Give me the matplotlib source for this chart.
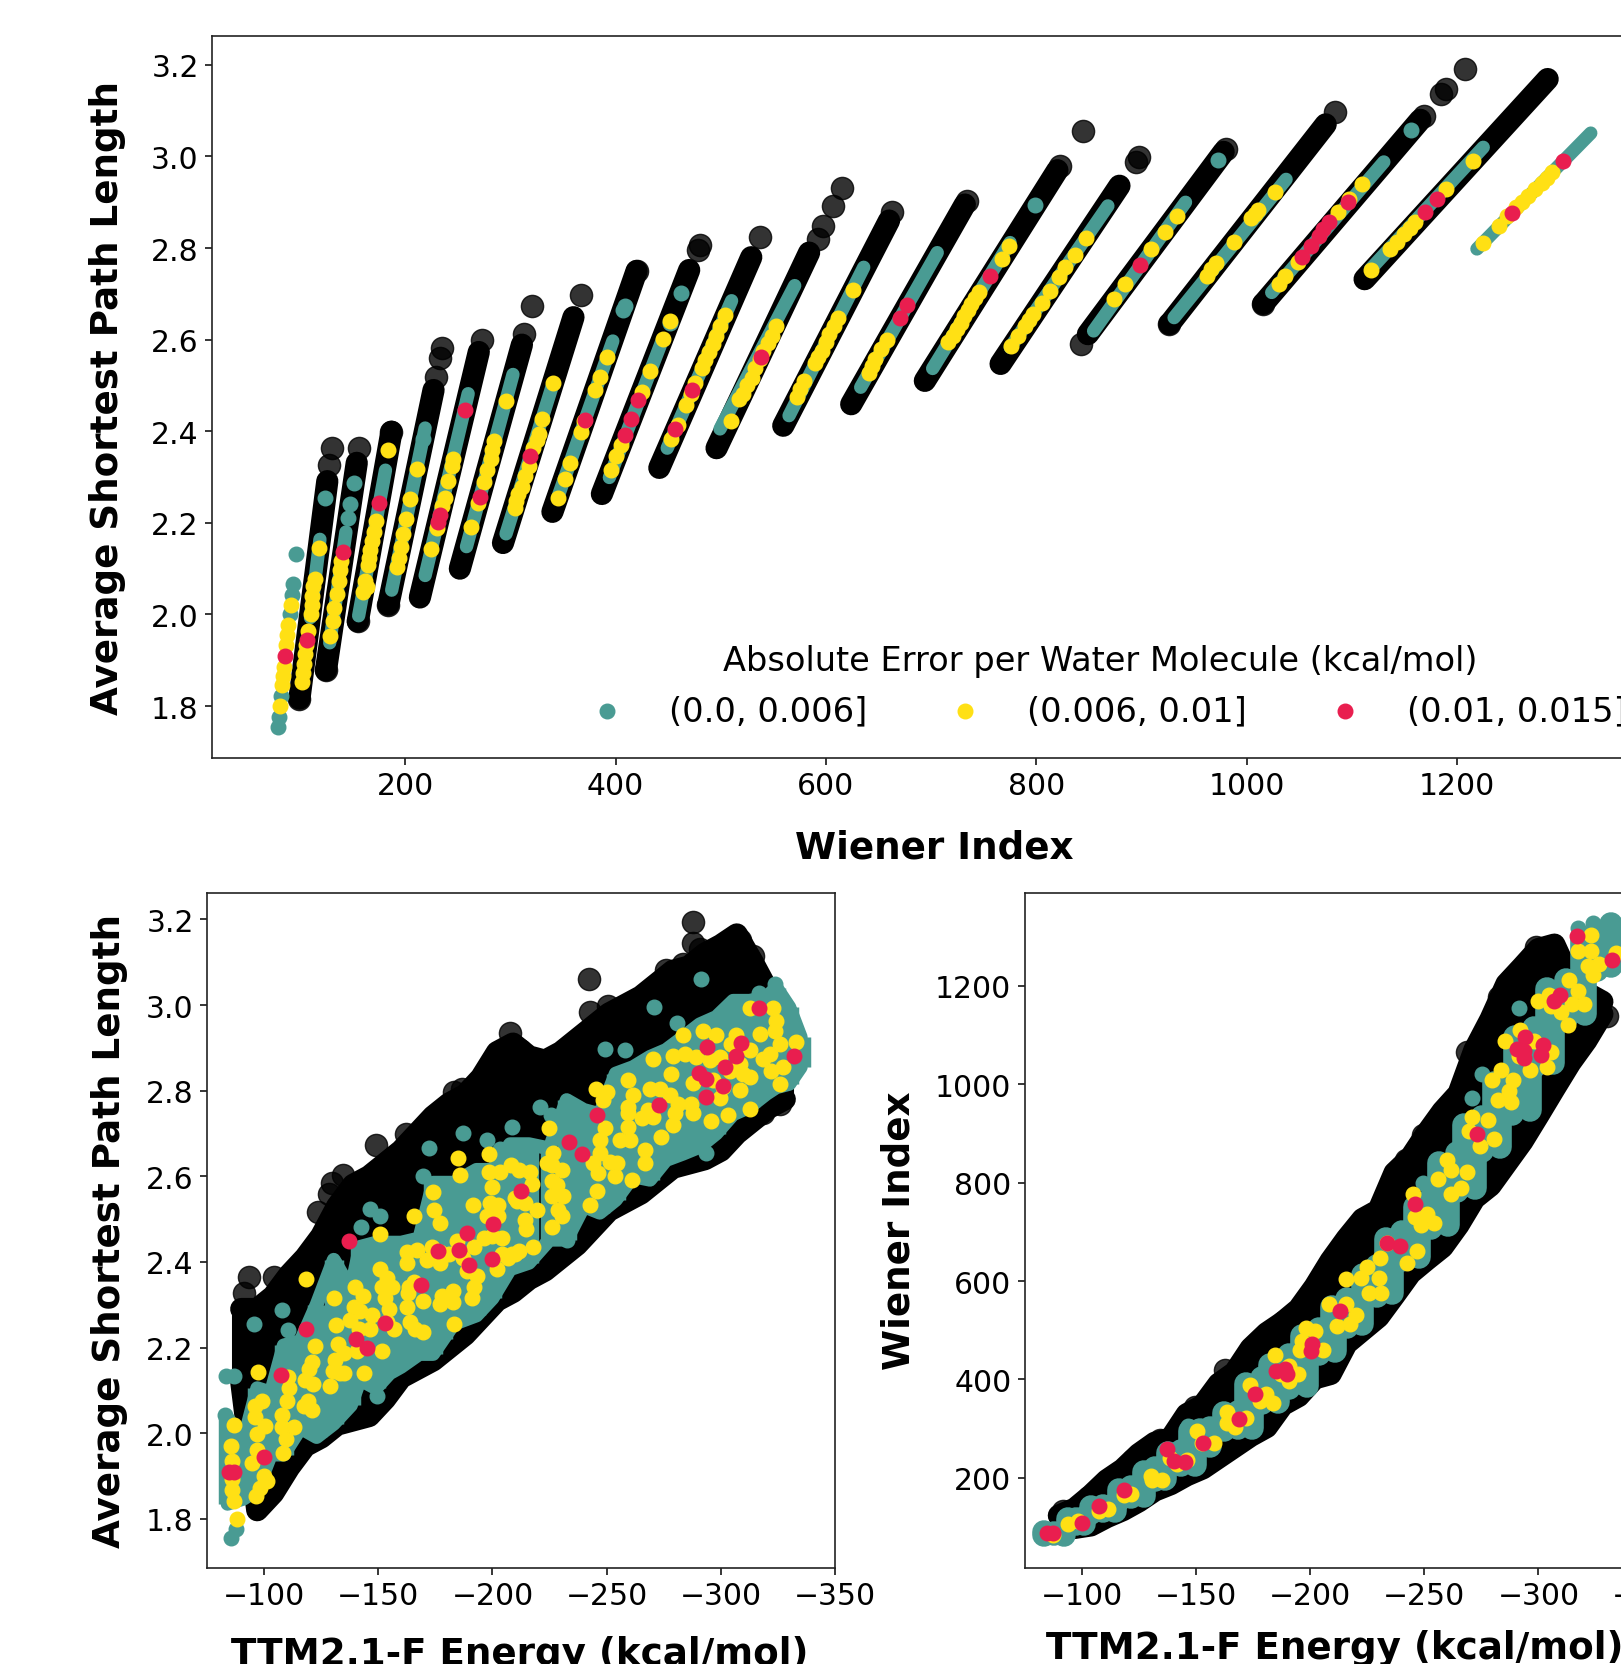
import matplotlib
matplotlib.use("Agg")
import matplotlib.pyplot as plt

W, H = 1621, 1665
TEAL = "#499b93"
YELLOW = "#ffe014"
RED = "#e91e4f"

# ---- top panel: Wiener index vs average shortest path length
strip_wi = [[99.5, 126], [124.7, 154], [155, 187], [184, 227], [214, 270], [252, 311], [293, 360],
            [340, 420], [387, 470], [441.6, 529], [496, 584], [559.4, 660], [624, 732], [694, 820],
            [766, 879], [849, 978], [926.5, 1075], [1015.6, 1165], [1112, 1286]]
strip_aspl = [[1.816, 2.291], [1.878, 2.331], [1.985, 2.399], [2.021, 2.49], [2.037, 2.573], [2.10, 2.589],
              [2.156, 2.649], [2.224, 2.75], [2.263, 2.752], [2.32, 2.78], [2.363, 2.79], [2.412, 2.86],
              [2.459, 2.895], [2.51, 2.97], [2.547, 2.936], [2.612, 3.01], [2.634, 3.07], [2.678, 3.08],
              [2.732, 3.169]]
top_black_wi = [99.5, 128, 130, 124.7, 156, 155, 187, 184, 229, 233, 235, 273, 313, 321, 367, 420, 478, 480,
                537.5, 592, 597.6, 607, 615.7, 663, 734, 822, 844, 895, 898, 842, 980, 926.5, 1084,
                1168.5, 1185, 1189, 1207, 1015.6]
top_black_aspl = [1.816, 2.327, 2.363, 1.878, 2.363, 1.985, 2.399, 2.021, 2.518, 2.56, 2.581, 2.599, 2.613, 2.674,
                  2.698, 2.75, 2.796, 2.806, 2.825, 2.82, 2.849, 2.891, 2.932, 2.878, 2.903, 2.98, 3.056, 2.987,
                  2.998, 2.59, 3.016, 2.634, 3.096, 3.089, 3.136, 3.147, 3.192, 2.678]
band_wi = [[110, 119], [128.3, 143.7], [155.8, 181.3], [187.2, 219], [219, 259.9], [258.3, 302.5], [295.9, 340.8],
           [345, 397.4], [394.1, 444.8], [449.1, 510.3], [499.3, 570.3], [564.9, 635.9], [633, 705.8],
           [701.4, 775], [775.2, 868], [854.4, 941.8], [930.9, 1037.4], [1023.7, 1130.3], [1117.7, 1224.8],
           [1218.8, 1327]]
band_aspl = [[1.993, 2.164], [1.938, 2.18], [1.997, 2.315], [2.053, 2.407], [2.085, 2.482], [2.148, 2.524],
             [2.176, 2.506], [2.255, 2.597], [2.299, 2.601], [2.363, 2.685], [2.405, 2.718], [2.434, 2.758],
             [2.496, 2.79], [2.537, 2.812], [2.583, 2.892], [2.619, 2.9], [2.648, 2.95], [2.703, 2.988],
             [2.754, 3.02], [2.798, 3.051]]
top_teal_wi = [79.2, 80.2, 82.2, 90.3, 92.3, 93, 95.9, 124, 151.2, 148, 146, 217.3, 407.2, 408.8, 451.4, 461.9,
               798.7, 973, 1156.5]
top_teal_aspl = [1.755, 1.777, 1.822, 2.001, 2.043, 2.067, 2.132, 2.254, 2.287, 2.241, 2.211, 2.384, 2.665, 2.673,
                 2.637, 2.701, 2.894, 2.993, 3.057]
top_yellow_wi = [81.2, 82.8, 83.8, 84.8, 86.4, 87.7, 89, 91.3,
                 102.1, 102.8, 103.8, 104.7, 105.4, 108, 110.3, 111, 111.6, 112.6, 113.9, 117.8,
                 129, 131.6, 132.2, 134.9, 137.2, 138.1, 139.4,
                 184, 172.2, 168.2, 165.6, 165, 161.7, 160, 163.5, 167, 170,
                 211.1, 204.6, 201, 198.4, 196.1, 193.8, 191.8,
                 245.8, 244.2, 240.3, 237.6, 235.4, 230.4, 224.9,
                 295.9, 284.5, 282.8, 281.2, 277.9, 274.6, 269.7, 262.5,
                 340.8, 330.3, 327, 321.4, 313.9, 310.6, 305.7, 304.1, 307, 318, 325,
                 345, 351.6, 356.5, 367.3, 369.6, 380.7, 385.3, 391.8,
                 395.7, 400.7, 405.6, 425.2, 432.4, 445.2, 451.4,
                 453, 459.6, 467.1, 475.9, 481.8, 489, 495.6, 503.8, 471.5, 485.4, 492.3, 499.7,
                 509.3, 517.8, 521, 529.3, 533, 540.3, 548.5, 552.3, 525, 537, 544.5,
                 572, 579.6, 589.4, 596, 603.1, 611.3, 626, 575.8, 592.7, 600, 607.2,
                 641.3, 646.8, 657.7, 644, 652,
                 716.2, 724.4, 731.5, 738, 745.1, 767, 774.1, 720.3, 728, 735, 741.5,
                 776.3, 788.8, 797, 805.2, 813.4, 821.6, 827.1, 836.4, 847.3, 782.5, 793,
                 873.5, 884.4, 909, 922.7, 933.6,
                 966.4, 988.2, 1007.4, 1026.5, 962.5, 970.3, 1004, 1011,
                 1031, 1036.3, 1109.5, 1097.5, 1048.3, 1086.6,
                 1118.3, 1135.7, 1149.4, 1160.3, 1189.3, 1215, 1142.5, 1155,
                 1224.2, 1239.5, 1256, 1266.9, 1280.5, 1290.4, 1247.7, 1261.5, 1273.7, 1285.5]
top_yellow_aspl = [1.8, 1.845, 1.866, 1.886, 1.934, 1.955, 1.977, 2.021,
                   1.852, 1.872, 1.891, 1.914, 1.934, 1.964, 2.001, 2.021, 2.041, 2.061, 2.077, 2.144,
                   1.953, 1.985, 2.013, 2.045, 2.073, 2.096, 2.116,
                   2.359, 2.204, 2.16, 2.124, 2.108, 2.073, 2.049, 2.06, 2.14, 2.18,
                   2.317, 2.252, 2.208, 2.176, 2.148, 2.124, 2.104,
                   2.339, 2.323, 2.291, 2.255, 2.236, 2.188, 2.142,
                   2.465, 2.379, 2.359, 2.339, 2.315, 2.289, 2.244, 2.19,
                   2.506, 2.426, 2.395, 2.363, 2.303, 2.279, 2.248, 2.232, 2.262, 2.325, 2.38,
                   2.254, 2.295, 2.331, 2.399, 2.422, 2.49, 2.518, 2.561,
                   2.315, 2.345, 2.371, 2.486, 2.532, 2.601, 2.641,
                   2.384, 2.414, 2.458, 2.506, 2.538, 2.574, 2.609, 2.653, 2.482, 2.556, 2.59, 2.63,
                   2.422, 2.47, 2.481, 2.517, 2.539, 2.576, 2.608, 2.63, 2.5, 2.558, 2.592,
                   2.475, 2.51, 2.55, 2.576, 2.612, 2.648, 2.709, 2.492, 2.563, 2.594, 2.63,
                   2.528, 2.557, 2.6, 2.543, 2.58,
                   2.594, 2.623, 2.652, 2.678, 2.703, 2.776, 2.805, 2.608, 2.637, 2.665, 2.69,
                   2.587, 2.629, 2.656, 2.681, 2.707, 2.736, 2.758, 2.785, 2.822, 2.608, 2.642,
                   2.688, 2.721, 2.798, 2.836, 2.87,
                   2.754, 2.814, 2.874, 2.923, 2.74, 2.768, 2.866, 2.882,
                   2.721, 2.739, 2.94, 2.907, 2.769, 2.878,
                   2.753, 2.798, 2.83, 2.856, 2.93, 2.99, 2.814, 2.843,
                   2.812, 2.849, 2.889, 2.914, 2.943, 2.965, 2.869, 2.901, 2.928, 2.954]
top_red_wi = [86.1, 107, 141, 174.8, 257, 232.7, 230.8, 271.4, 318.8, 370.9, 409.2, 414.7, 421.6, 456.6, 473,
              538.1, 670.3, 676.9, 756, 898.1, 1052.2, 1060.9, 1068.6, 1072.9, 1078.4, 1095.9, 1169.6, 1180.5,
              1252.1, 1300.7]
top_red_aspl = [1.91, 1.945, 2.136, 2.243, 2.446, 2.217, 2.201, 2.257, 2.345, 2.425, 2.391, 2.426, 2.468, 2.405,
                2.489, 2.561, 2.647, 2.675, 2.738, 2.763, 2.781, 2.805, 2.827, 2.841, 2.856, 2.9, 2.878, 2.907,
                2.877, 2.99]

# ---- lower panels share the black energy columns
col_e = [-90, -97, -104, -111, -118, -125, -132, -139, -146, -153, -160, -167, -174, -181, -188, -195, -202,
         -209, -216, -223, -230, -237, -244, -251, -258, -265, -272, -279, -286, -293, -300, -307, -314, -321,
         -328]
col_aspl_low = [2.12, 1.82, 1.86, 1.92, 1.97, 1.99, 2.02, 2.03, 2.04, 2.08, 2.13, 2.15, 2.17, 2.20, 2.23, 2.27,
                2.31, 2.33, 2.36, 2.38, 2.41, 2.44, 2.48, 2.52, 2.54, 2.56, 2.59, 2.62, 2.63, 2.64, 2.66, 2.70,
                2.73, 2.76, 2.78]
col_aspl_high = [2.29, 2.29, 2.32, 2.37, 2.41, 2.46, 2.53, 2.58, 2.60, 2.63, 2.66, 2.70, 2.74, 2.77, 2.79, 2.83,
                 2.89, 2.91, 2.88, 2.87, 2.89, 2.92, 2.95, 2.98, 3.00, 3.02, 3.05, 3.08, 3.09, 3.12, 3.14, 3.165,
                 3.10, 3.03, 2.90]
col_wi_low = [93.5, 98, 103, 120, 134, 152, 174, 187, 205, 219, 241, 263, 285, 303, 348, 366, 402, 411, 473, 500,
              527, 571, 616, 643, 669, 714, 768, 794, 839, 884, 937, 991, 1044, 1089, 1143]
col_wi_high = [123, 137, 164, 195, 217, 248, 271, 280, 329, 347, 391, 414, 463, 494, 516, 543, 588, 641, 686, 726,
               744, 820, 851, 900, 945, 981, 1070, 1132, 1204, 1239, 1275, 1284, 1213, 1186, 1168]

# ---- lower left: energy vs average shortest path length
left_black_e = [-93.6, -91.1, -104.2, -123.6, -128.3, -134.5, -129.7, -149.1, -162.1, -195.3, -186.6, -183, -207.7,
                -204.8, -242.4, -287.9, -287.9, -291, -314.1, -308.3, -242.7, -250.7, -268.9, -276.2, -283.5,
                -212.1, -325.8, -318.5]
left_black_aspl = [2.364, 2.328, 2.365, 2.517, 2.558, 2.602, 2.584, 2.674, 2.7, 2.829, 2.805, 2.798, 2.934, 2.856,
                   3.06, 3.193, 3.145, 3.13, 3.114, 3.153, 2.983, 2.998, 3.033, 3.083, 3.095, 2.894, 2.77, 2.747]
teal_e = [-84, -91, -97, -103, -108.6, -116, -123, -130.5, -138, -142, -149, -155, -160, -168, -174, -178.5, -183, -188,
          -193, -200, -207.7, -216, -225, -232.5, -240, -247, -254, -261.6, -269, -276, -283.5, -290.8, -298, -305.4,
          -312.6, -320, -324.3, -330, -335]
teal_low = [1.835, 1.847, 1.868, 1.95, 1.95, 2.012, 1.991, 2.022, 2.065, 2.125, 2.105, 2.14, 2.155, 2.185, 2.185, 2.22,
            2.255, 2.265, 2.275, 2.315, 2.383, 2.398, 2.452, 2.452, 2.53, 2.515, 2.545, 2.60, 2.592, 2.638, 2.653, 2.669,
            2.70, 2.745, 2.762, 2.793, 2.808, 2.816, 2.855]
teal_high = [2.035, 1.982, 2.105, 2.095, 2.205, 2.215, 2.30, 2.405, 2.335, 2.435, 2.445, 2.445, 2.445, 2.455, 2.585, 2.585,
             2.585, 2.6, 2.615, 2.615, 2.675, 2.675, 2.665, 2.778, 2.755, 2.745, 2.84, 2.855, 2.879, 2.895, 2.925, 2.955,
             2.972, 3.01, 3.01, 3.018, 3.041, 2.995, 2.925]
left_teal_e = [-85.6, -87.5, -83.5, -86.7, -83.1, -95.5, -107.9, -110.4, -146.5, -150.9, -142.4, -130.5, -134.5,
               -149.4, -172, -169.5, -187.3, -197.5, -203.1, -208.5, -291.2, -270.8, -281, -249.2, -258, -220.8,
               -225.6, -323.6, -316.7, -293.7, -232.5]
left_teal_aspl = [1.755, 1.775, 2.134, 2.134, 2.043, 2.254, 2.287, 2.242, 2.524, 2.507, 2.481, 2.398, 2.055, 2.086,
                  2.666, 2.601, 2.701, 2.684, 2.664, 2.715, 3.06, 2.996, 2.957, 2.898, 2.896, 2.762, 2.743, 3.05,
                  3.029, 2.654, 2.452]
left_yellow_e = [-88.2, -86.7, -86, -86, -86, -85.6, -86.7, -97.2, -96.2, -99.1, -96.2, -96.9, -100.6, -94.8, -96.9,
                 -99.9, -101.3, -98.4, -96.6, -107.9, -107.9, -113, -109.8, -108.3, -110.1, -110.8, -110.3, -118.5,
                 -122.4, -121, -119.5, -118.1, -121.4, -119.1, -121, -117.3, -130.5, -131.6, -132.2, -134.8, -131.2,
                 -130.2, -133.4, -129, -135.1, -139.9, -143.1, -139.2, -147.2, -142.1, -137.8, -141.4, -146.5,
                 -140.7, -151.6, -143.6, -150.9, -150.6, -153.8, -151.6, -156, -153.1, -154.5, -153.8, -156.7,
                 -162.5, -166.9, -162.5, -169.8, -163.3, -162.8, -165.5, -162.5, -164, -166.2, -169.5, -165.5,
                 -173.9, -174.2, -177.1, -173.5, -177.1, -171.3, -177.1, -180.8, -177.8, -182.9, -177.1, -182.9,
                 -183.2, -185.1, -185.9, -191.4, -184.4, -191.7, -187.3, -193.1, -188.8, -191.7, -191, -198.3,
                 -198.3, -203.1, -199.7, -199, -202.6, -197.5, -202.6, -204.1, -196.1, -199.7, -201.9, -207, -204.1,
                 -209.9, -208, -210.6,
                 -224.9, -226.6, -223.7, -225.9, -230.3, -225.9, -228.1, -225.9, -231, -219.7, -228.8, -230.6,
                 -214.3, -214.7, -225.9, -217.9, -211.8, -208.4, -211.8, -216.4, -217.2, -209.9, -214.3, -245.3,
                 -250, -248.5, -259.4, -261.6, -259.4, -259.4, -270.4, -278.4, -268.9, -273.3, -277.7, -268.2,
                 -265.3, -270.4, -281.3, -279.8, -279.1, -287.1, -287.9, -287.9, -274, -295.9, -303.2, -312.6,
                 -308.6, -299.5, -301, -296.6, -283.5, -279.1, -284.2, -289.3, -292.2, -298.1, -295.1, -299.5,
                 -304.6, -306.8, -312.6, -303.9, -308.3, -312.6, -309.7, -317, -322.8, -324.3, -323.6, -321.4,
                 -325.8, -318.5, -327.2, -322.1, -333, -326, -312.6, -249.2, -247, -259.4, -260.2, -255.8, -247,
                 -251.4, -254.6, -246.3, -253.6, -261.3, -245.9, -242.7, -266.7, -266.7, -244.1]
left_yellow_aspl = [1.8, 1.842, 1.868, 1.894, 1.935, 1.971, 2.02, 2.144, 2.064, 2.074, 2.038, 1.997, 2.017, 1.93, 1.961,
                    1.899, 1.889, 1.873, 1.853, 2.043, 2.015, 2.015, 1.986, 1.953, 2.074, 2.105, 2.131, 2.359,
                    2.203, 2.167, 2.151, 2.125, 2.115, 2.074, 2.053, 2.064, 2.316, 2.252, 2.208, 2.187, 2.172,
                    2.146, 2.141, 2.11, 2.141, 2.342, 2.321, 2.295, 2.277, 2.285, 2.265, 2.244, 2.244,
                    2.192, 2.192, 2.141, 2.465, 2.383, 2.362, 2.342, 2.342, 2.316, 2.29, 2.259, 2.244,
                    2.424, 2.429, 2.398, 2.308, 2.342, 2.328, 2.352, 2.295, 2.259, 2.244, 2.236, 2.507,
                    2.563, 2.522, 2.491, 2.434, 2.424, 2.404, 2.398, 2.419, 2.321, 2.331, 2.301, 2.306,
                    2.254, 2.643, 2.602, 2.532, 2.45, 2.434, 2.409, 2.368, 2.378, 2.342, 2.316, 2.653,
                    2.61, 2.61, 2.574, 2.537, 2.532, 2.507, 2.507, 2.455, 2.455, 2.46, 2.383, 2.409, 2.419,
                    2.419, 2.627, 2.543,
                    2.714, 2.654, 2.631, 2.627, 2.615, 2.588, 2.58, 2.553, 2.553, 2.521, 2.522, 2.507,
                    2.499, 2.476, 2.482, 2.435, 2.425, 2.418, 2.615, 2.611, 2.582, 2.549, 2.538, 2.805,
                    2.797, 2.778, 2.826, 2.789, 2.762, 2.747, 2.874, 2.84, 2.805, 2.805, 2.789, 2.754,
                    2.737, 2.739, 2.77, 2.747, 2.72, 2.77, 2.747, 2.819, 2.692, 2.729, 2.744, 2.757,
                    2.801, 2.782, 2.809, 2.824, 2.929, 2.882, 2.886, 2.878, 2.94, 2.929, 2.871, 2.878,
                    2.909, 2.929, 2.894, 2.847, 2.863, 2.832, 2.84, 2.932, 2.994, 2.963, 2.94, 2.886,
                    2.909, 2.874, 2.855, 2.847, 2.913, 2.816, 2.993, 2.712, 2.685, 2.716, 2.685, 2.685, 2.654,
                    2.634, 2.631, 2.607, 2.601, 2.592, 2.565, 2.534, 2.661, 2.632, 2.631]
left_red_e = [-84.5, -86.7, -100.1, -107.4, -118.4, -137.3, -140.1, -145, -153.1, -168.7, -176.1, -185.4, -188.9,
              -189.9, -200.1, -200, -212.5, -233.6, -239, -245.6, -272.9, -294, -290.5, -293.7, -302, -306.5, -309,
              -301, -293.4, -316.7, -331.9]
left_red_aspl = [1.91, 1.91, 1.945, 2.136, 2.244, 2.448, 2.219, 2.2, 2.258, 2.346, 2.425, 2.427, 2.467, 2.392, 2.489,
                 2.406, 2.565, 2.679, 2.652, 2.743, 2.766, 2.901, 2.842, 2.828, 2.855, 2.882, 2.912, 2.81, 2.785,
                 2.993, 2.881]

# ---- lower right: energy vs Wiener index
right_black_e = [-268.6, -287.9, -282.9, -298.8, -241.8, -249.3, -226.7, -214.9, -206.5, -194.8, -188, -175.5, -162.9,
                 -149.5, -134.4, -122.6, -111.7, -103.4, -91.6, -329.9, -258.5]
right_black_wi = [1066, 1213, 1178, 1280, 847, 897, 731, 660, 620, 539, 517, 463, 419, 343, 276, 236, 191, 160, 133,
                  1138, 946]
blob_e = [-83.6, -87.9, -92.2, -94, -97.5, -101, -104, -109.2, -114.4, -116.3, -121.8, -127.3, -127.3, -131.9, -136.5,
          -137.6, -143.6, -149.6, -147.4, -151.7, -156, -162.3, -168.5, -174.7, -171.9, -178.9, -185.9, -182.6, -190.6,
          -198.6, -196.5, -203.7, -210.9, -209.4, -216.1, -222.8, -223.3, -229.5, -235.7, -233.2, -240.4, -247.6,
          -245.8, -253, -260.2, -256.4, -264.4, -272.4, -267.3, -275.3, -283.3, -280.5, -288.3, -296.1, -289.6, -298,
          -306.4, -303.6, -312, -320.4, -319.1, -325.5, -331.9, -335]
blob_low = [84, 85, 84, 103, 106, 106, 128, 132, 132, 155, 160, 163, 192, 195, 198, 224, 226, 226, 265, 266, 265, 298,
            302, 301, 348, 352, 354, 378, 382, 386, 450, 452, 458, 503, 507, 512, 566, 570, 576, 638, 642, 648, 705,
            708, 714, 775, 782, 789, 860, 865, 872, 935, 940, 948, 1030, 1035, 1044, 1130, 1133, 1142, 1230, 1232,
            1241, 1260]
blob_high = [90, 88, 90, 116, 116, 118, 140, 142, 146, 174, 182, 190, 212, 219, 222, 250, 254, 262, 296, 298, 302, 332,
             334, 340, 391, 402, 412, 430, 450, 460, 488, 502, 510, 547, 563, 572, 613, 630, 640, 685, 700, 710, 751,
             768, 778, 839, 860, 870, 917, 933, 945, 1002, 1020, 1035, 1096, 1115, 1130, 1194, 1213, 1228, 1293, 1312,
             1325, 1310]
right_teal_e = [-291.3, -271.1, -249.3, -146.5, -275.3, -317.3, -324]
right_teal_wi = [1155, 972, 800, 305, 1021, 1318, 1327]
right_yellow_e = [-87.4, -94.1, -98.3, -107.6, -111.7, -118.5, -121.8, -130.2, -131, -135.2, -138.6, -146.1, -141.9,
                  -150.7, -152.9, -157.9, -163.8, -163.8, -172.1, -167.1, -173.8, -180.5, -183.9, -178, -184.7, -190.6,
                  -194.8, -190.6, -187.2, -198.2, -202.3, -196.5, -195.6, -205.7, -208.2, -215.8, -220, -211.6, -217.4,
                  -215.8, -225, -222.5, -230, -225.8, -230.9, -230.5, -233.9, -246.8, -242.6, -245.1, -246, -251,
                  -254.4, -248.5, -259.9, -256, -261.9, -268.6, -266.1, -261.9, -270.8, -269.5, -274.5, -280.4, -277.9,
                  -283.7, -279.5, -288.8, -287.1, -282.1, -287.9, -285.4, -292.1, -298, -305.5, -303.9, -296.3, -291.3,
                  -313.4, -300, -304.7, -317.3, -319.8, -313.1, -309.7, -314.8, -305.5, -323.2, -317.3, -323.2, -326.5,
                  -324, -334, -321.5]
right_yellow_wi = [84, 106, 111, 133, 136, 164, 166, 204, 196, 196, 240, 236, 227, 294, 270, 271, 334, 312, 321, 303,
                   388, 370, 352, 356, 450, 428, 410, 396, 410, 504, 499, 477, 459, 459, 553, 553, 530, 508, 513, 604,
                   629, 606, 606, 575, 575, 646, 678, 660, 637, 776, 731, 736, 718, 713, 847, 807, 825, 821, 789, 776,
                   934, 905, 874, 888, 928, 1030, 1008, 1008, 986, 968, 964, 1089, 1111, 1089, 1066, 1035, 1030, 1057,
                   1213, 1169, 1182, 1190, 1164, 1120, 1147, 1164, 1160, 1303, 1272, 1272, 1245, 1222, 1267, 1240]
right_red_e = [-84.9, -87.4, -100, -107.4, -118.5, -137.4, -140.3, -145.3, -153.2, -168.8, -176, -185.2, -188.9, -190.1,
               -200.7, -200.2, -213.3, -233.9, -239.3, -245.8, -273, -294.3, -290.8, -293.8, -293.8, -302.2, -301,
               -306.7, -309.4, -317, -332.4]
right_red_wi = [87, 87, 108, 142, 176, 258, 233, 232, 271, 320, 371, 416, 421, 410, 472, 457, 538, 677, 671, 756, 898,
                1096, 1072, 1068, 1053, 1080, 1060, 1169, 1181, 1301, 1252]

legend_labels = ["(0.0, 0.006]", "(0.006, 0.01]", "(0.01, 0.015]"]

plt.rcParams["font.family"] = "DejaVu Sans"
plt.rcParams["axes.linewidth"] = 1.2
plt.rcParams["axes.edgecolor"] = "#222222"

fig = plt.figure(figsize=(W / 100, H / 100), dpi=100)
ax_top = fig.add_axes([212 / W, 1 - 759 / H, 1444 / W, 722 / H])
ax_left = fig.add_axes([207 / W, 1 - 1569 / H, 628 / W, 675.5 / H])
ax_right = fig.add_axes([1024.6 / W, 1 - 1569 / H, 628 / W, 675.5 / H])

S_BLACK = 256
S_DOT = 110
LABEL_SIZE = 26.8

# top
for w, a in zip(strip_wi, strip_aspl):
    ax_top.plot(w, a, color="black", lw=16, solid_capstyle="round", zorder=2)
ax_top.scatter(top_black_wi, top_black_aspl, s=S_BLACK, color="black", alpha=0.8, zorder=3)
for w, a in zip(band_wi, band_aspl):
    ax_top.plot(w, a, color=TEAL, lw=9.6, solid_capstyle="round", zorder=4)
h1 = ax_top.scatter(top_teal_wi, top_teal_aspl, s=S_DOT, color=TEAL, zorder=5)
h2 = ax_top.scatter(top_yellow_wi, top_yellow_aspl, s=S_DOT, color=YELLOW, zorder=6)
h3 = ax_top.scatter(top_red_wi, top_red_aspl, s=S_DOT, color=RED, zorder=7)
ax_top.set_xlim(16.4, 1389)
ax_top.set_ylim(1.6865, 3.263)
ax_top.set_xticks([200, 400, 600, 800, 1000, 1200])
ax_top.set_yticks([1.8, 2.0, 2.2, 2.4, 2.6, 2.8, 3.0, 3.2])
ax_top.legend([h1, h2, h3], legend_labels, title="Absolute Error per Water Molecule (kcal/mol)", ncol=3,
              frameon=False, fontsize=24.2, title_fontsize=24.2, loc="center", bbox_to_anchor=(0.6148, 0.1),
              columnspacing=1.91, handletextpad=0.85)
ax_top.set_xlabel("Wiener Index", fontsize=LABEL_SIZE, fontweight="bold", va="center")
ax_top.xaxis.set_label_coords(0.5, -0.123)
ax_top.set_ylabel("Average Shortest Path Length", fontsize=LABEL_SIZE, fontweight="bold", va="center")
ax_top.yaxis.set_label_coords(-0.0725, 0.5)

# lower left
ax_left.plot(col_e, col_aspl_low, color="black", lw=16, solid_capstyle="round", zorder=2)
ax_left.plot(col_e, col_aspl_high, color="black", lw=16, solid_capstyle="round", zorder=2)
ax_left.vlines(col_e, col_aspl_low, col_aspl_high, color="black", lw=13, zorder=2)
ax_left.scatter(left_black_e, left_black_aspl, s=S_BLACK, color="black", alpha=0.8, zorder=3)
ax_left.plot(teal_e, teal_low, color=TEAL, lw=10, solid_capstyle="round", zorder=4)
ax_left.plot(teal_e, teal_high, color=TEAL, lw=10, solid_capstyle="round", zorder=4)
ax_left.vlines(teal_e, teal_low, teal_high, color=TEAL, lw=14, zorder=4)
ax_left.scatter(left_teal_e, left_teal_aspl, s=S_DOT, color=TEAL, zorder=5)
ax_left.scatter(left_yellow_e, left_yellow_aspl, s=S_DOT, color=YELLOW, zorder=6)
ax_left.scatter(left_red_e, left_red_aspl, s=S_DOT, color=RED, zorder=7)
ax_left.set_xlim(-75, -350)
ax_left.set_ylim(1.685, 3.263)
ax_left.set_xticks([-100, -150, -200, -250, -300, -350])
ax_left.set_yticks([1.8, 2.0, 2.2, 2.4, 2.6, 2.8, 3.0, 3.2])
ax_left.set_xlabel("TTM2.1-F Energy (kcal/mol)", fontsize=LABEL_SIZE, fontweight="bold", va="center")
ax_left.xaxis.set_label_coords(0.498, -0.126)
ax_left.set_ylabel("Average Shortest Path Length", fontsize=LABEL_SIZE, fontweight="bold", va="center")
ax_left.yaxis.set_label_coords(-0.156, 0.5)

# lower right
ax_right.plot(col_e, col_wi_low, color="black", lw=16, solid_capstyle="round", zorder=2)
ax_right.plot(col_e, col_wi_high, color="black", lw=16, solid_capstyle="round", zorder=2)
ax_right.vlines(col_e, col_wi_low, col_wi_high, color="black", lw=13, zorder=2)
ax_right.scatter(right_black_e, right_black_wi, s=S_BLACK, color="black", alpha=0.8, zorder=3)
ax_right.vlines(blob_e, blob_low, blob_high, color=TEAL, lw=17, capstyle="round", zorder=4)
ax_right.scatter(right_teal_e, right_teal_wi, s=S_DOT, color=TEAL, zorder=5)
ax_right.scatter(right_yellow_e, right_yellow_wi, s=S_DOT, color=YELLOW, zorder=6)
ax_right.scatter(right_red_e, right_red_wi, s=S_DOT, color=RED, zorder=7)
ax_right.set_xlim(-75, -350)
ax_right.set_ylim(16.4, 1390)
ax_right.set_xticks([-100, -150, -200, -250, -300, -350])
ax_right.set_yticks([200, 400, 600, 800, 1000, 1200])
ax_right.set_xlabel("TTM2.1-F Energy (kcal/mol)", fontsize=LABEL_SIZE, fontweight="bold", va="center")
ax_right.xaxis.set_label_coords(0.494, -0.117)
ax_right.set_ylabel("Wiener Index", fontsize=LABEL_SIZE, fontweight="bold", va="center")
ax_right.yaxis.set_label_coords(-0.2, 0.5)

for ax in [ax_top, ax_left, ax_right]:
    ax.tick_params(labelsize=21.5, length=5, width=1.1, pad=4.5)

fig.savefig("out.png", dpi=100)
